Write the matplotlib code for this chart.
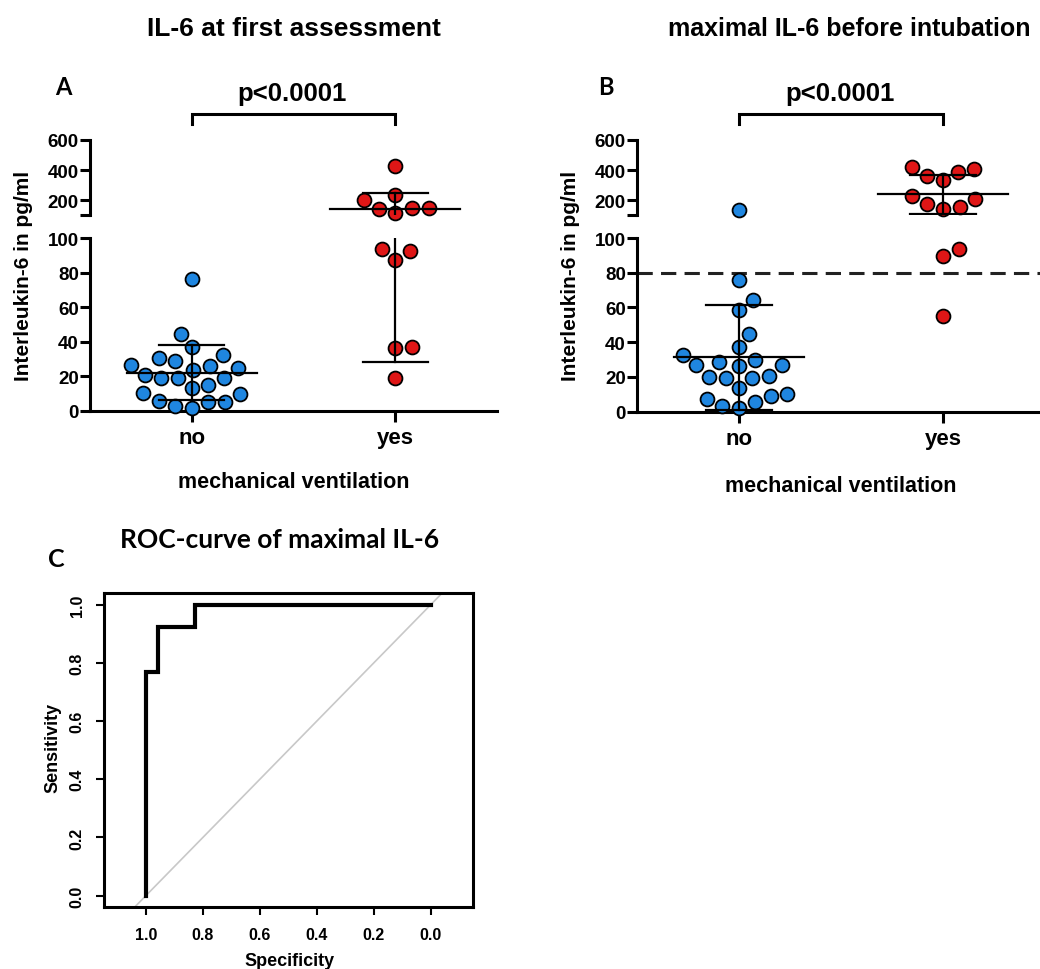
import numpy as np
import matplotlib
matplotlib.use("Agg")
import matplotlib.pyplot as plt
from matplotlib.transforms import blended_transform_factory

plt.rcParams['font.family'] = ['Liberation Sans', 'DejaVu Sans']
plt.rcParams['font.weight'] = 'bold'

# ---- data ----
groups = ['no', 'yes']

# panel A: IL-6 at first assessment (pg/ml)
a_no = [76, 44.4, 32.4, 36.7, 28.6, 30.3, 26, 23.7, 24.5, 26.4, 18.9, 18.9,
        18.9, 20.7, 15, 10.2, 5.8, 4.8, 5.2, 9.7, 12.9, 1.4, 2.9]
a_yes = [425, 233, 204, 150, 145, 119, 150, 93.6, 92.7, 87.5, 37, 36.1, 18.7]
a_med = [21.8, 141]
a_q1 = [6, 28.4]
a_q3 = [38.2, 248]

# panel B: maximal IL-6 before intubation (pg/ml)
b_no = [136, 76, 64.5, 58.7, 44.7, 32.8, 37, 28.4, 26.9, 26.1, 26.9, 29.9,
        20.7, 19.4, 19.4, 20.2, 13.4, 9.2, 5.4, 7.3, 10.2, 1.9, 3.5]
b_yes = [423, 405, 390, 361, 332, 229, 206, 173, 158, 145, 93.7, 89.8, 54.9]
b_med = [31.3, 240]
b_q1 = [1.2, 107]
b_q3 = [61.6, 370]
cutoff = 80

spec_ticks = [1.0, 0.8, 0.6, 0.4, 0.2, 0.0]
sens_ticks = [0.0, 0.2, 0.4, 0.6, 0.8, 1.0]

W, H = 1040, 970
fig = plt.figure(figsize=(W / 100, H / 100), dpi=100)

BLUE = '#1f86e0'
RED = '#df1616'
LW = 2.2


def ftext(x, y, s, **kw):
    fig.text(x / W, 1 - y / H, s, **kw)


def broken_axes(left, bottom0, top100, right):
    # lower segment 0-100 and upper segment 105-600
    lo = fig.add_axes([left / W, 1 - bottom0 / H, (right - left) / W, (bottom0 - top100) / H])
    hi = fig.add_axes([left / W, 1 - 215.7 / H, (right - left) / W, (215.7 - 140.7) / H])
    lo.set_ylim(0, 100)
    hi.set_ylim(105, 600)
    for ax in (lo, hi):
        ax.set_xlim(-0.5, 1.5)
        ax.patch.set_visible(False)
        for s in ('top', 'right'):
            ax.spines[s].set_visible(False)
        for s in ('left', 'bottom'):
            ax.spines[s].set_linewidth(LW)
        ax.tick_params(width=LW, length=7, labelsize=13.5, pad=1)
    hi.spines['bottom'].set_visible(False)
    hi.set_xticks([])
    hi.set_yticks([105, 200, 400, 600])
    hi.set_yticklabels(['', '200', '400', '600'])
    lo.set_yticks([0, 20, 40, 60, 80, 100])
    lo.set_xticks([0, 1])
    lo.set_xticklabels(groups, fontsize=16)
    lo.tick_params(axis='x', length=8, pad=4)
    return lo, hi


def swarm(lo, hi, vals, xc, d=17.0):
    pts = np.array([(hi if v > 100 else lo).transData.transform((xc, v)) for v in vals])
    order = np.argsort(pts[:, 1])
    placed = []
    off = np.zeros(len(vals))
    for n, k in enumerate(order):
        y = pts[k, 1]
        cands = [0.0]
        for px, py in placed:
            dy = abs(py - y)
            if dy < d:
                dx = np.sqrt(d * d - dy * dy)
                cands += [px + dx, px - dx]
        sign = 1 if n % 2 else -1
        cands.sort(key=lambda c: (round(abs(c), 3), sign * c))
        for c in cands:
            if all((c - px) ** 2 + (y - py) ** 2 >= d * d - 1e-6 for px, py in placed):
                break
        placed.append((c, y))
        off[k] = c
    ppu = lo.transData.transform((1, 0))[0] - lo.transData.transform((0, 0))[0]
    return xc + off / ppu


def draw_panel(lo, hi, no_vals, yes_vals, med, q1, q3):
    for i, (vals, col) in enumerate([(no_vals, BLUE), (yes_vals, RED)]):
        xs = swarm(lo, hi, vals, i)
        for x, v in zip(xs, vals):
            ax = hi if v > 100 else lo
            ax.scatter([x], [v], s=100, color=col, edgecolor='black', linewidth=1.3,
                       zorder=3, clip_on=False)
        for ax in (lo, hi):
            ax.plot([i - 0.32, i + 0.32], [med[i]] * 2, color='black', lw=1.6, zorder=4)
            ax.plot([i - 0.16, i + 0.16], [q1[i]] * 2, color='black', lw=1.6, zorder=4)
            ax.plot([i - 0.16, i + 0.16], [q3[i]] * 2, color='black', lw=1.6, zorder=4)
            ax.plot([i, i], [q1[i], q3[i]], color='black', lw=1.6, zorder=4)
    # significance bracket
    tr = blended_transform_factory(hi.transData, hi.transAxes)
    hi.plot([0, 0, 1, 1], [1.21, 1.343, 1.343, 1.21], color='black', lw=LW,
            transform=tr, clip_on=False, solid_joinstyle='miter')


# panel A
a_lo, a_hi = broken_axes(90, 411.7, 239, 497)
draw_panel(a_lo, a_hi, a_no, a_yes, a_med, a_q1, a_q3)

# panel B
b_lo, b_hi = broken_axes(637, 412.7, 239, 1045)
draw_panel(b_lo, b_hi, b_no, b_yes, b_med, b_q1, b_q3)
b_lo.axhline(cutoff, color='#222222', lw=LW, ls=(0, (5, 2.7)), zorder=2)

# texts of A and B
ftext(294, 36, 'IL-6 at first assessment', ha='center', va='baseline', fontsize=19)
ftext(849, 36, 'maximal IL-6 before intubation', ha='center', va='baseline', fontsize=18)
ftext(292, 101, 'p<0.0001', ha='center', va='baseline', fontsize=18.5)
ftext(840, 101, 'p<0.0001', ha='center', va='baseline', fontsize=18.5)
ftext(55, 95, 'A', ha='left', va='baseline', fontsize=17, family=['Lato', 'DejaVu Sans'])
ftext(598, 95, 'B', ha='left', va='baseline', fontsize=17, family=['Lato', 'DejaVu Sans'])
ftext(294, 488, 'mechanical ventilation', ha='center', va='baseline', fontsize=15.5)
ftext(841, 492, 'mechanical ventilation', ha='center', va='baseline', fontsize=15.5)
ftext(24, 276, 'Interleukin-6 in pg/ml', ha='center', va='center', rotation=90, fontsize=15)
ftext(570, 276, 'Interleukin-6 in pg/ml', ha='center', va='center', rotation=90, fontsize=15)

# panel C: ROC curve computed from the panel B values
no_arr = np.array(b_no)
yes_arr = np.array(b_yes)
thr = np.concatenate([[np.inf], np.sort(np.unique(np.concatenate([no_arr, yes_arr])))[::-1], [-np.inf]])
sens = [np.mean(yes_arr >= t) for t in thr]
spec = [np.mean(no_arr < t) for t in thr]

axc = fig.add_axes([104 / W, 1 - 908.3 / H, (472.7 - 104) / W, (908.3 - 594) / H])
axc.set_xlim(1.147, -0.147)
axc.set_ylim(-0.04, 1.04)
axc.axline((1, 0), (0, 1), color='#c8c8c8', lw=1.2, zorder=1)
axc.plot(spec, sens, color='black', lw=3, zorder=3, solid_joinstyle='miter')
for s in axc.spines.values():
    s.set_linewidth(LW)
axc.set_xticks(spec_ticks)
axc.set_xticklabels(['%.1f' % v for v in spec_ticks])
axc.set_yticks(sens_ticks)
axc.set_yticklabels(['%.1f' % v for v in sens_ticks], rotation=90, va='center')
axc.tick_params(length=6, width=1.5, labelsize=11.5, pad=8)
ftext(290, 962, 'Specificity', ha='center', va='center', fontsize=13)
ftext(53, 748, 'Sensitivity', ha='center', va='center', rotation=90, fontsize=13)
ftext(48, 567, 'C', ha='left', va='baseline', fontsize=18, family=['Lato', 'DejaVu Sans'])
ftext(120, 548, 'ROC-curve of maximal IL-6', ha='left', va='baseline', fontsize=19,
      family=['Lato', 'DejaVu Sans'])

fig.savefig('out.png', dpi=100)
